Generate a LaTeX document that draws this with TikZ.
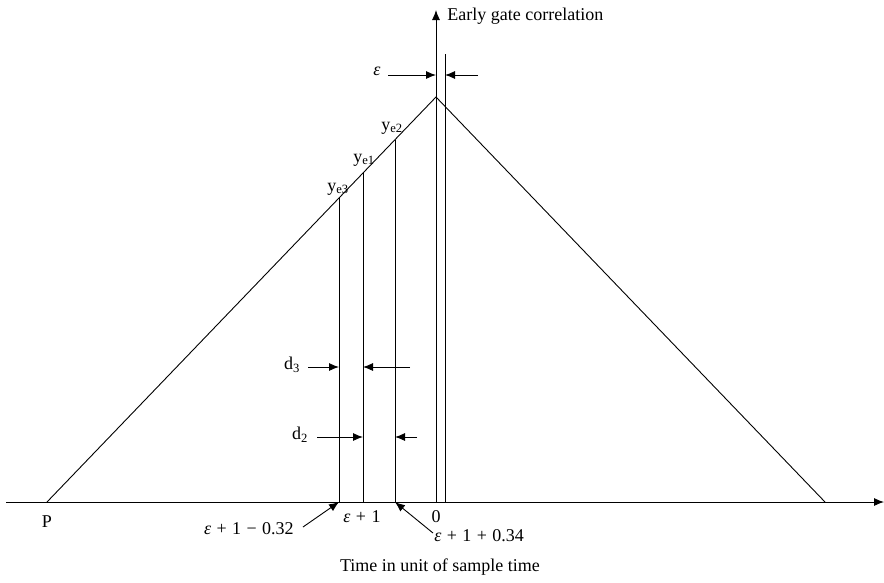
\documentclass[tikz,border=0pt]{standalone}
\usepackage{fontspec}
\setmainfont{Liberation Serif}
\usetikzlibrary{arrows.meta}
\newcommand{\opgap}{\hspace{0.3em}}
\begin{document}
\begin{tikzpicture}[x=1pt,y=-1pt,line width=0.9pt,font=\fontsize{18}{21}\selectfont,
  tip/.style={-{Latex[length=10pt,width=8pt]}},
  lbl/.style={inner sep=0pt}]
\useasboundingbox (0,0) rectangle (884,582);
% axes
\coordinate (xstart) at (6,502);
\coordinate (xend) at (884,502);
\coordinate (origin) at (436,502);
\coordinate (ytop) at (436,10);
\draw[tip] (xstart) -- (xend);
\draw[tip] (origin) -- (ytop);
\node[lbl, anchor=west] (ylabel) at (447,16) {Early gate correlation};
\node[lbl] (xlabel) at (440,567) {Time in unit of sample time};
% triangle
\coordinate (left) at (47,502);
\coordinate (apex) at (436,97);
\coordinate (right) at (825,502);
\draw (left) -- (apex) -- (right);
% shifted line
\coordinate (shtop) at (445,54);
\coordinate (shbot) at (445,502);
\draw (shtop) -- (shbot);
% samples
\coordinate (e3top) at (339,198);
\coordinate (e3bot) at (339,502);
\coordinate (e1top) at (363,173);
\coordinate (e1bot) at (363,502);
\coordinate (e2top) at (395,140);
\coordinate (e2bot) at (395,502);
\draw (e3top) -- (e3bot);
\draw (e1top) -- (e1bot);
\draw (e2top) -- (e2bot);
\node[lbl] (ye3) at (338,189) {y\textsubscript{e3}};
\node[lbl] (ye1) at (364,160) {y\textsubscript{e1}};
\node[lbl] (ye2) at (392,128) {y\textsubscript{e2}};
% epsilon
\node[lbl] (eps) at (377,71) {\textit{ε}};
\coordinate (epsa) at (388,75);
\coordinate (epsb) at (436,75);
\coordinate (epsc) at (478,75);
\coordinate (epsd) at (445,75);
\draw[tip] (epsa) -- (epsb);
\draw[tip] (epsc) -- (epsd);
% d3
\node[lbl] (d3) at (292,365) {d\textsubscript{3}};
\coordinate (d3a) at (308,367);
\coordinate (d3b) at (339,367);
\coordinate (d3c) at (410,367);
\coordinate (d3d) at (363,367);
\draw[tip] (d3a) -- (d3b);
\draw[tip] (d3c) -- (d3d);
% d2
\node[lbl] (d2) at (300,435) {d\textsubscript{2}};
\coordinate (d2a) at (317,437);
\coordinate (d2b) at (363,437);
\coordinate (d2c) at (417,437);
\coordinate (d2d) at (395,437);
\draw[tip] (d2a) -- (d2b);
\draw[tip] (d2c) -- (d2d);
% axis labels
\node[lbl] (p) at (47,522) {P};
\node[lbl] (zero) at (436,517) {0};
\node[lbl] (t1) at (362,517) {\textit{ε}\opgap+\opgap1};
\node[lbl, anchor=east] (t3) at (294,529) {\textit{ε}\opgap+\opgap1\opgap−\opgap0.32};
\node[lbl, anchor=west] (t2) at (434,536) {\textit{ε}\opgap+\opgap1\opgap+\opgap0.34};
\draw[tip] (t3.east) ++(9,-2) coordinate (t3a) (t3a) -- (e3bot);
\draw[tip] (t2.west) ++(-1,-3) coordinate (t2a) (t2a) -- (e2bot);
\end{tikzpicture}
\end{document}
